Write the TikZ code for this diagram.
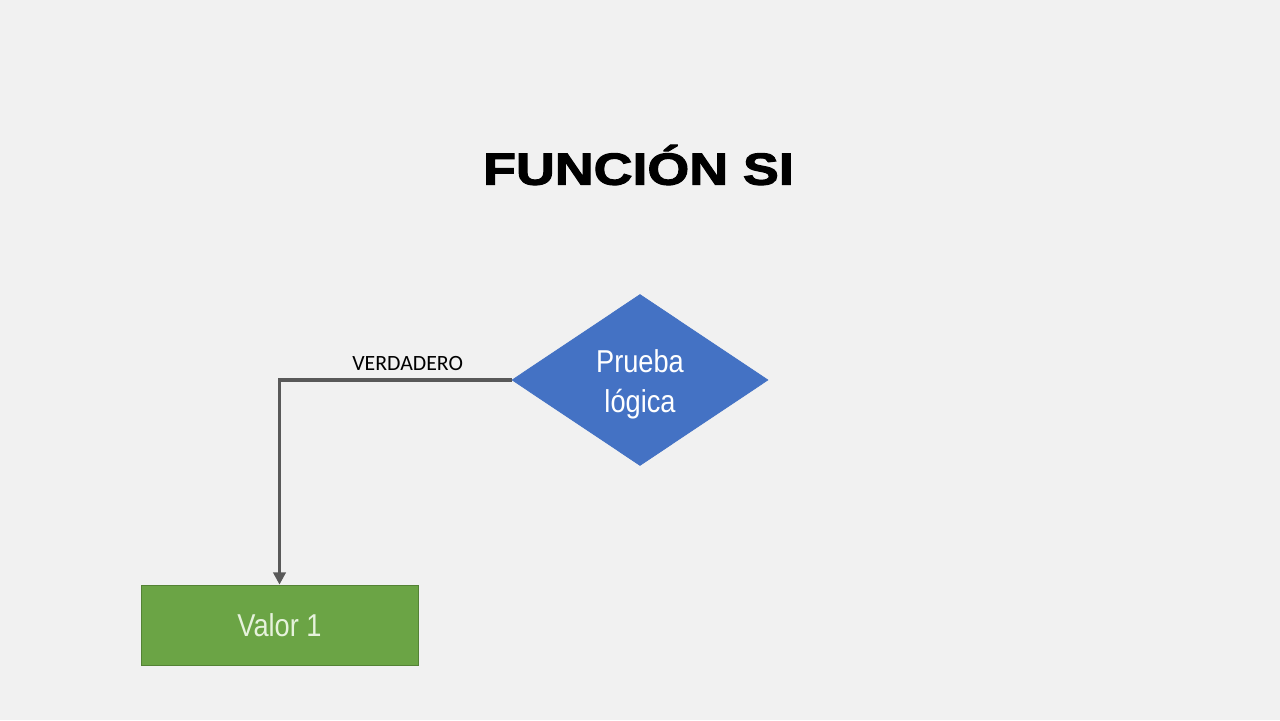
\documentclass[tikz,border=0pt]{standalone}
\usepackage{fontspec}
\setmainfont{Liberation Sans}
\newfontfamily\narrowfont[FakeStretch=0.86]{Liberation Sans}
\newfontfamily\labelfont{Carlito}
\usetikzlibrary{shapes.geometric,arrows.meta}
\definecolor{bgray}{HTML}{F1F1F1}
\definecolor{dblue}{HTML}{4472C4}
\definecolor{vgreen}{HTML}{6BA445}
\definecolor{vgreenline}{HTML}{548235}
\definecolor{lgreen}{HTML}{E6F2DC}
\definecolor{lgray}{HTML}{595959}
\begin{document}
\begin{tikzpicture}[
  testbox/.style={draw=dblue, fill=dblue, diamond, aspect=1.5, inner sep=0pt,
    minimum width=5.12cm, minimum height=3.42cm, text=white,
    font=\narrowfont\fontsize{18}{22.5}\selectfont},
  valbox/.style={draw=vgreenline, fill=vgreen, rectangle, minimum width=5.54cm,
    minimum height=1.6cm, text=lgreen, font=\narrowfont\fontsize{18}{22}\selectfont},
  flowline/.style={draw=lgray, line width=2.2pt, -{Triangle[length=7pt, width=7pt]}}
]
\fill[bgray] (0,0) rectangle (25.6,14.4);
\useasboundingbox (0,0) rectangle (25.6,14.4);

\node[font=\bfseries\fontsize{25.5}{30}\selectfont] (title) at (12.77,11.1)
{\addfontfeature{FakeStretch=1.2,FakeBold=2.5}FUNCIÓN SI};

\node[testbox] (test) at (12.8,6.8)
{\raisebox{-2.5pt}[\height][\depth]{\begin{tabular}{@{}c@{}}Prueba\\[0.5pt]lógica\end{tabular}}};
\node[valbox] (val1) at (5.59,1.9) {Valor 1};

\draw[flowline] (test.west) -| node[pos=0.224, above, inner sep=4.5pt,
  font=\labelfont\fontsize{12.4}{14}\selectfont] (verd) {VERDADERO} (val1.north);
\end{tikzpicture}
\end{document}
